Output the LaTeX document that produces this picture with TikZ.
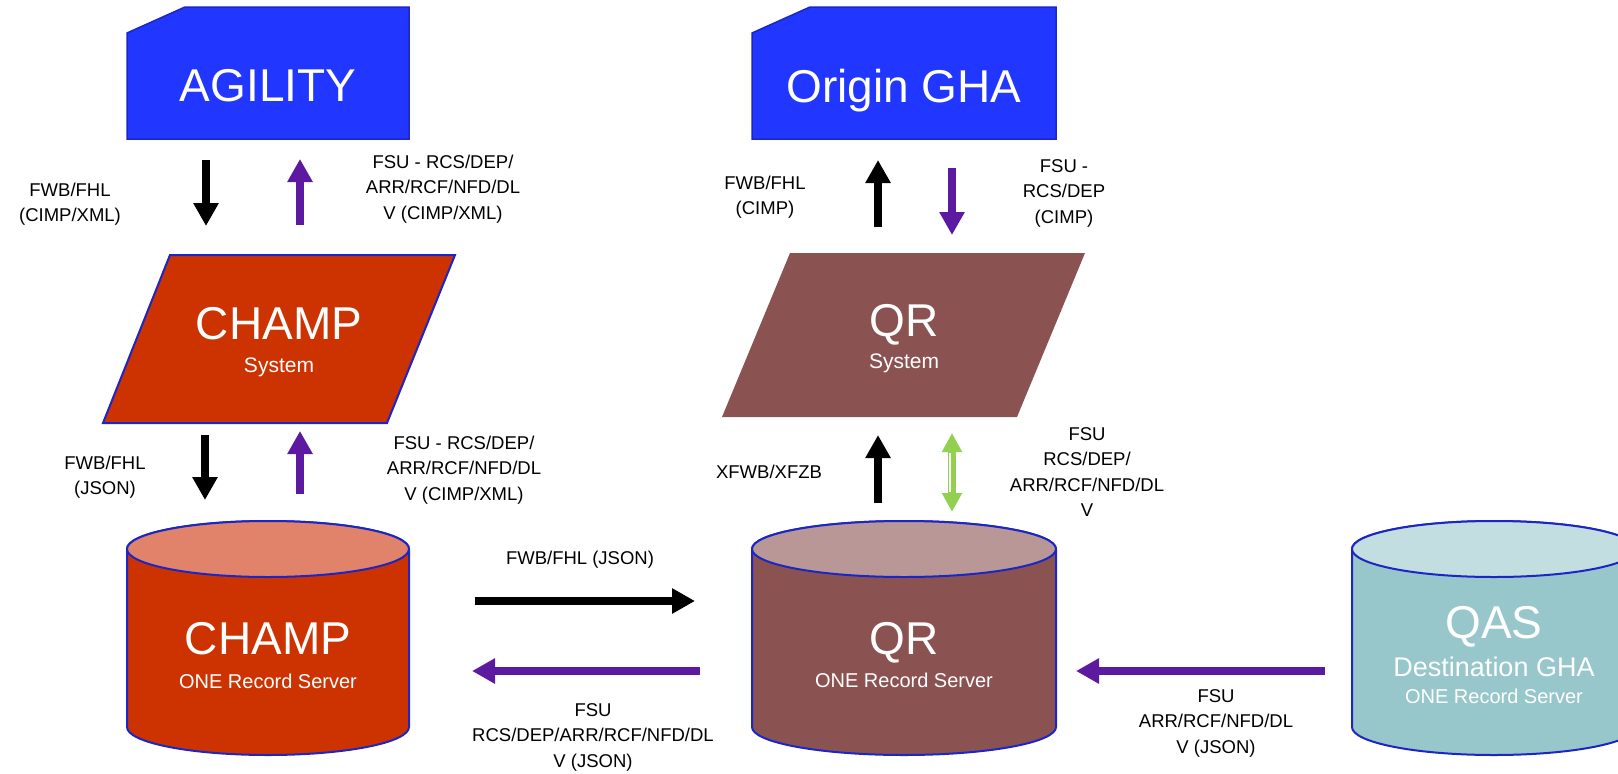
\documentclass[tikz,border=0pt]{standalone}
\usepackage{fontspec}
\setmainfont{Liberation Sans}
\usetikzlibrary{arrows.meta,calc}
\definecolor{boxblue}{RGB}{33,54,255}
\definecolor{edgeblue}{RGB}{28,38,196}
\definecolor{champred}{RGB}{204,51,0}
\definecolor{champtop}{RGB}{224,131,106}
\definecolor{qrbrown}{RGB}{139,82,82}
\definecolor{qrtop}{RGB}{184,151,150}
\definecolor{qasbody}{RGB}{151,199,203}
\definecolor{qastop}{RGB}{195,222,225}
\definecolor{arrpurple}{RGB}{92,26,160}
\definecolor{arrgreen}{RGB}{146,208,80}
\tikzset{
	bigtext/.style={text=white,font=\fontsize{46}{50}\selectfont,inner sep=0pt,text depth=0pt},
	subtext/.style={text=white,font=\fontsize{21}{24}\selectfont,inner sep=0pt,text depth=0pt},
	srvtext/.style={text=white,font=\fontsize{20}{23}\selectfont,inner sep=0pt,text depth=0pt},
	lbl/.style={align=center,font=\fontsize{18.5}{25.5}\selectfont,inner sep=0pt},
	blkarr/.style={line width=8pt,-{Triangle[length=23pt,width=24pt]}},
	prparr/.style={blkarr,draw=arrpurple},
	grnarr/.style={line width=8pt,draw=arrgreen,{Triangle[length=19pt,width=19pt]}-{Triangle[length=19pt,width=19pt]}},
	dbedge/.style={draw=edgeblue,line width=2pt}
}
% server cylinder: centre x, x radius, body colour, top colour
\newcommand{\dbshape}[4]{
	\path[dbedge,fill=#3] (#1-#2,549) -- (#1-#2,727) arc[start angle=180,end angle=360,x radius=#2pt,y radius=28pt] -- (#1+#2,549) arc[start angle=0,end angle=180,x radius=#2pt,y radius=28pt] -- cycle;
	\path[dbedge,fill=#4] (#1,549) ellipse[x radius=#2pt,y radius=28pt];
}

\begin{document}
\begin{tikzpicture}[x=1pt,y=-1pt]
	\useasboundingbox (0,0) rectangle (1618,774);
	\clip (0,0) rectangle (1618,774);

	% systems
	\path[draw=edgeblue,line width=1.5pt,fill=boxblue] (127,139) -- (127,33) -- (185,7) -- (409,7) -- (409,139) -- cycle;
	\path[draw=edgeblue,line width=1.5pt,fill=boxblue] (752,139) -- (752,33) -- (810,7) -- (1056,7) -- (1056,139) -- cycle;
	\path[dbedge,fill=champred] (103,423) -- (170,255) -- (455,255) -- (387,423) -- cycle;
	\path[fill=qrbrown] (722,417) -- (790,253) -- (1085,253) -- (1017,417) -- cycle;

	% servers
	\dbshape{268}{141}{champred}{champtop}
	\dbshape{904}{152}{qrbrown}{qrtop}
	\dbshape{1494}{142}{qasbody}{qastop}

	\node[bigtext] (agility) at (268,85) {AGILITY};
	\node[bigtext] (origin) at (904,86) {Origin GHA};
	\node[bigtext] (champsys) at (279,323) {CHAMP};
	\node[subtext] (champsub) at (279,365) {System};
	\node[bigtext] (qrsys) at (904,320) {QR};
	\node[subtext] (qrsub) at (904,361) {System};
	\node[bigtext] (champdb) at (268,638) {CHAMP};
	\node[srvtext] (champsrv) at (268,681) {ONE Record Server};
	\node[bigtext] (qrdb) at (904,638) {QR};
	\node[srvtext] (qrsrv) at (904,680) {ONE Record Server};
	\node[bigtext] (qasdb) at (1494,622) {QAS};
	\node[srvtext,font=\fontsize{27}{30}\selectfont] (qasdest) at (1494,667) {Destination GHA};
	\node[srvtext] (qassrv) at (1494,696) {ONE Record Server};

	% arrow ends
	\foreach \n/\x/\y in {a1/206/160, b1/206/226, a2/300/225, b2/300/159,
		a3/878/227, b3/878/160, a4/952/168, b4/952/235,
		a5/205/435, b5/205/500, a6/300/494, b6/300/431,
		a7/878/503, b7/878/435, a8/952/433, b8/952/512,
		a9/475/601, b9/695/601, a10/700/671, b10/472/671,
		a11/1325/671, b11/1076/671}
		\coordinate (\n) at (\x,\y);

	\draw[blkarr] (a1) -- (b1);
	\draw[prparr] (a2) -- (b2);
	\draw[blkarr] (a3) -- (b3);
	\draw[prparr] (a4) -- (b4);
	\draw[blkarr] (a5) -- (b5);
	\draw[prparr] (a6) -- (b6);
	\draw[blkarr] (a7) -- (b7);
	\draw[grnarr] (a8) -- (b8);
	\draw[white,line width=1.5pt] ($(a8)+(-2,20)$) -- ($(b8)+(-2,-20)$);
	\draw[blkarr] (a9) -- (b9);
	\draw[prparr] (a10) -- (b10);
	\draw[prparr] (a11) -- (b11);

	\node[lbl] (l1) at (70,204) {FWB/FHL\\(CIMP/XML)};
	\node[lbl] (l2) at (443,189) {FSU - RCS/DEP/\\ARR/RCF/NFD/DL\\V (CIMP/XML)};
	\node[lbl] (l3) at (765,197) {FWB/FHL\\(CIMP)};
	\node[lbl] (l4) at (1064,193) {FSU -\\RCS/DEP\\(CIMP)};
	\node[lbl] (l5) at (105,477) {FWB/FHL\\(JSON)};
	\node[lbl] (l6) at (464,470) {FSU - RCS/DEP/\\ARR/RCF/NFD/DL\\V (CIMP/XML)};
	\node[lbl] (l7) at (769,472) {XFWB/XFZB};
	\node[lbl] (l8) at (1087,472) {FSU\\RCS/DEP/\\ARR/RCF/NFD/DL\\V};
	\node[lbl] (l9) at (580,560) {FWB/FHL (JSON)};
	\node[lbl] (l10) at (593,737) {FSU\\RCS/DEP/ARR/RCF/NFD/DL\\V (JSON)};
	\node[lbl] (l11) at (1216,723) {FSU\\ARR/RCF/NFD/DL\\V (JSON)};
\end{tikzpicture}
\end{document}
